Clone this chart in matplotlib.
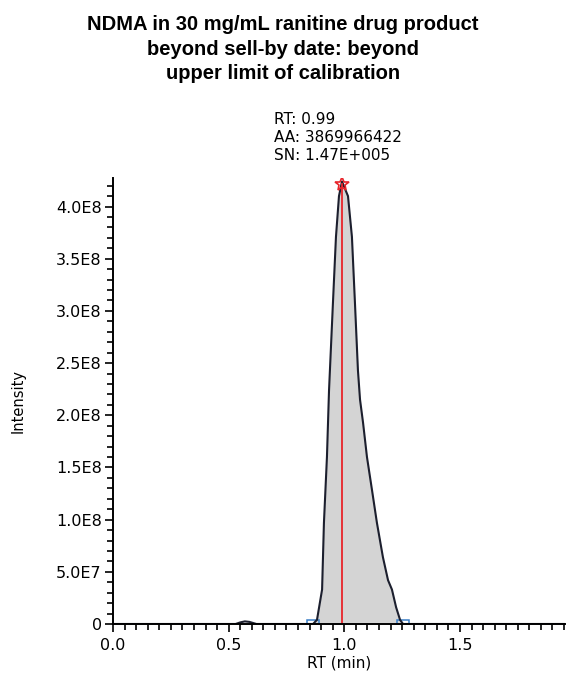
import matplotlib.pyplot as plt
from matplotlib.patches import Rectangle
from matplotlib.ticker import MultipleLocator

# chromatogram trace (RT in min, intensity)
rt = [0.0, 0.53, 0.55, 0.57, 0.59, 0.62, 0.865, 0.882, 0.904, 0.912, 0.925,
      0.934, 0.951, 0.964, 0.977, 0.990, 1.016, 1.033, 1.046, 1.059, 1.068,
      1.081, 1.098, 1.120, 1.141, 1.167, 1.189, 1.206, 1.224, 1.241, 1.254, 1.96]
intensity = [0, 0, 0.015e8, 0.025e8, 0.02e8, 0, 0, 0.04e8, 0.33e8, 0.97e8, 1.60e8,
             2.24e8, 3.08e8, 3.71e8, 4.10e8, 4.24e8, 4.10e8, 3.71e8, 3.08e8, 2.43e8, 2.15e8,
             1.93e8, 1.60e8, 1.28e8, 0.97e8, 0.64e8, 0.42e8, 0.33e8, 0.16e8, 0.04e8, 0, 0]

peak_rt = 0.99
peak_top = 4.22e8
peak_start = 0.865
peak_end = 1.254
peak_label = "RT: 0.99\nAA: 3869966422\nSN: 1.47E+005"

yticks = [0, 0.5e8, 1.0e8, 1.5e8, 2.0e8, 2.5e8, 3.0e8, 3.5e8, 4.0e8]
ytick_labels = ["0", "5.0E7", "1.0E8", "1.5E8", "2.0E8", "2.5E8", "3.0E8", "3.5E8", "4.0E8"]
xticks = [0.0, 0.5, 1.0, 1.5]
xtick_labels = ["0.0", "0.5", "1.0", "1.5"]

title = "NDMA in 30 mg/mL ranitine drug product\nbeyond sell-by date: beyond\nupper limit of calibration"

fig = plt.figure(figsize=(5.66, 6.77), dpi=100)
ax = fig.add_axes([0.1996, 0.0783, 0.799, 0.659])

# fill under the integrated peak
px = [r for r in rt if peak_start <= r <= peak_end]
py = [i for r, i in zip(rt, intensity) if peak_start <= r <= peak_end]
ax.fill_between(px, py, 0, color="#d4d4d4", lw=0)
ax.plot(rt, intensity, color="#1c1f2e", lw=1.5)
ax.plot([peak_rt, peak_rt], [0, peak_top], color="#e8242a", lw=1.3)
ax.plot(peak_rt, peak_top, marker="*", ms=10, mfc="none", mec="#e8242a", mew=1.2)

# baseline markers at peak start/end
for b in (peak_start, peak_end):
    ax.add_patch(Rectangle((b - 0.027, 0), 0.054, 0.04e8, fill=False,
                           ec="#3a7ec6", lw=1.1))

ax.annotate(peak_label, xy=(peak_rt, peak_top), xytext=(-49, 15),
            textcoords="offset points", ha="left", va="bottom",
            fontsize=11, linespacing=1.25, annotation_clip=False)

ax.set_xlim(0, 1.955)
ax.set_ylim(0, 4.275e8)
ax.set_xticks(xticks)
ax.set_xticklabels(xtick_labels)
ax.xaxis.set_minor_locator(MultipleLocator(0.05))
ax.set_yticks(yticks)
ax.set_yticklabels(ytick_labels)
ax.yaxis.set_minor_locator(MultipleLocator(1e7))

for s in ("top", "right"):
    ax.spines[s].set_visible(False)
for s in ("left", "bottom"):
    ax.spines[s].set_linewidth(1.4)

ax.tick_params(axis="both", which="major", length=6, width=1.2, labelsize=11.5)
ax.tick_params(axis="both", which="minor", length=4, width=1.2)
ax.tick_params(axis="x", which="major", pad=4)
ax.tick_params(axis="y", which="major", pad=2)

ax.set_xlabel("RT (min)", fontsize=11, labelpad=2)
ax.set_ylabel("Intensity", fontsize=10.5, labelpad=22)

fig.text(0.5, 0.978, title, ha="center", va="top", fontsize=14.5,
         fontweight="bold", family="Liberation Sans", linespacing=1.38)

fig.savefig("out.png", dpi=100)
